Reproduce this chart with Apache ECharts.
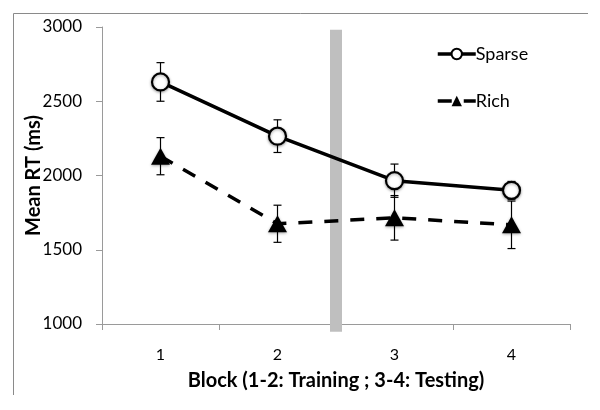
<!DOCTYPE html>
<html>
<head>
<meta charset="utf-8">
<script src="https://cdn.jsdelivr.net/npm/echarts@6/dist/echarts.min.js"></script>
<style>
html,body{margin:0;padding:0;background:#fff;}
#chart{width:600px;height:410px;}
</style>
</head>
<body>
<div id="chart"></div>
<script>
// ---- data ----
var blocks = ['1', '2', '3', '4'];
var sparseMean = [2630, 2265, 1965, 1900];
var sparseErr = [130, 110, 112, 60];
var richMean = [2130, 1675, 1715, 1668];
var richErr = [125, 125, 150, 160];
var yTicks = [1000, 1500, 2000, 2500, 3000];
var dividerX = [2.5];          // between block 2 and block 3
var dividerRange = [948, 2982]; // vertical extent of the grey divider (ms)
var xTitle = 'Block (1-2: Training ; 3-4: Testing)';
var yTitle = 'Mean RT (ms)';

var FONT = 'Lato';

function errData(mean, err) {
  return mean.map(function (m, i) { return [i, m - err[i], m + err[i]]; });
}

function errRender(params, api) {
  var x = api.value(0);
  var lo = api.coord([x, api.value(1)]);
  var hi = api.coord([x, api.value(2)]);
  var cap = 4;
  var st = { stroke: '#000', lineWidth: 1.2 };
  return {
    type: 'group',
    children: [
      { type: 'line', shape: { x1: lo[0], y1: lo[1], x2: hi[0], y2: hi[1] }, style: st },
      { type: 'line', shape: { x1: lo[0] - cap, y1: lo[1], x2: lo[0] + cap, y2: lo[1] }, style: st },
      { type: 'line', shape: { x1: hi[0] - cap, y1: hi[1], x2: hi[0] + cap, y2: hi[1] }, style: st }
    ]
  };
}

var chart = echarts.init(document.getElementById('chart'), null, { renderer: 'canvas' });

var option = {
  backgroundColor: '#fff',
  animation: false,
  textStyle: { fontFamily: FONT },
  graphic: [{
    type: 'polyline',
    shape: { points: [[588, 13.5], [13.5, 13.5], [13.5, 395]] },
    style: { stroke: '#8a8a8a', lineWidth: 1, fill: null },
    silent: true
  }],
  grid: { left: 102, right: 30, top: 27, bottom: 86 },
  legend: {
    orient: 'vertical',
    left: 431,
    top: 40,
    itemWidth: 38,
    itemHeight: 13,
    itemGap: 29,
    lineStyle: { width: 3.5 },
    textStyle: { fontFamily: FONT, fontSize: 18, color: '#000', padding: [0, 0, 0, -5] },
    data: ['Sparse', 'Rich']
  },
  xAxis: [{
    type: 'category',
    data: blocks,
    boundaryGap: true,
    axisLine: { lineStyle: { color: '#9a9a9a', width: 1 } },
    axisTick: { show: true, length: 6, inside: false, lineStyle: { color: '#9a9a9a' } },
    axisLabel: { margin: 23, fontSize: 16, color: '#000', fontFamily: FONT },
    name: xTitle,
    nameLocation: 'middle',
    nameGap: 47,
    nameMoveOverlap: false,
    nameTextStyle: { fontSize: 20, fontWeight: 'bold', color: '#000', fontFamily: FONT },
    splitLine: { show: false }
  }, {
    type: 'value',
    min: 0.5,
    max: 4.5,
    show: false
  }],
  yAxis: {
    type: 'value',
    min: 1000,
    max: 3000,
    interval: 500,
    axisLine: { show: true, lineStyle: { color: '#9a9a9a', width: 1 } },
    axisTick: { show: true, length: 6, lineStyle: { color: '#9a9a9a' } },
    axisLabel: { margin: 20, fontSize: 17, color: '#000', fontFamily: FONT,
      formatter: function (v) { return yTicks.indexOf(v) >= 0 ? String(v) : ''; } },
    splitLine: { show: false },
    name: yTitle,
    nameLocation: 'middle',
    nameRotate: 90,
    nameGap: 58,
    nameMoveOverlap: false,
    nameTextStyle: { fontSize: 20, fontWeight: 'bold', color: '#000', fontFamily: FONT }
  },
  series: [
    {
      name: 'divider',
      type: 'custom',
      xAxisIndex: 1,
      z: 1,
      silent: true,
      clip: false,
      data: dividerX.map(function (x) { return [x, dividerRange[0], dividerRange[1]]; }),
      renderItem: function (params, api) {
        var lo = api.coord([api.value(0), api.value(1)]);
        var hi = api.coord([api.value(0), api.value(2)]);
        return { type: 'rect', shape: { x: lo[0] - 6, y: hi[1], width: 12, height: lo[1] - hi[1] },
          style: { fill: '#bfbfbf' } };
      }
    },
    {
      name: 'sparseErr', type: 'custom', z: 2, silent: true, clip: false,
      data: errData(sparseMean, sparseErr), renderItem: errRender
    },
    {
      name: 'richErr', type: 'custom', z: 2, silent: true, clip: false,
      data: errData(richMean, richErr), renderItem: errRender
    },
    {
      name: 'Sparse',
      type: 'line',
      z: 3,
      data: sparseMean,
      symbol: 'circle',
      symbolSize: 17,
      lineStyle: { color: '#000', width: 3.5, type: 'solid' },
      itemStyle: { color: '#fff', borderColor: '#000', borderWidth: 2.2,
        shadowBlur: 3, shadowColor: 'rgba(0,0,0,0.35)', shadowOffsetY: 1 },
      emphasis: { disabled: true }
    },
    {
      name: 'Rich',
      type: 'line',
      z: 3,
      data: richMean,
      symbol: 'triangle',
      symbolSize: [19, 17],
      lineStyle: { color: '#000', width: 3.5, type: [14, 12] },
      itemStyle: { color: '#000', borderColor: '#000', borderWidth: 0,
        shadowBlur: 3, shadowColor: 'rgba(0,0,0,0.35)', shadowOffsetY: 1 },
      emphasis: { disabled: true }
    }
  ]
};
chart.setOption(option);
</script>
</body>
</html>
